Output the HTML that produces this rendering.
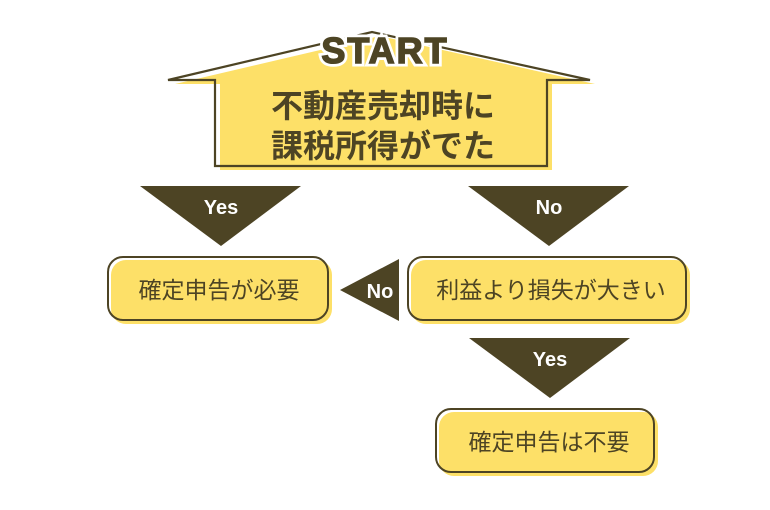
<!DOCTYPE html>
<html><head><meta charset="utf-8"><style>
html,body{margin:0;padding:0;background:#fff;}
svg{display:block;}
text{font-family:"Liberation Sans","Noto Sans CJK JP",sans-serif;}
</style></head><body>
<svg width="770" height="510" viewBox="0 0 770 510" xmlns="http://www.w3.org/2000/svg">
<!-- house -->
<polygon points="175,84 380,36 595,84 552,84 552,170 220,170 220,84" fill="#fde068"/>
<polygon points="168,80 372,32 590,80 547,80 547,166 215,166 215,80" fill="none" stroke="#4d4424" stroke-width="2.2"/>
<text x="385" y="63" font-size="36" font-weight="bold" fill="#4d4424" text-anchor="middle" stroke="#fff" stroke-width="7" paint-order="stroke" letter-spacing="2">START</text>
<text x="385" y="63" font-size="36" font-weight="bold" fill="#4d4424" text-anchor="middle" stroke="#4d4424" stroke-width="1.5" letter-spacing="2">START</text>
<text x="383" y="117" font-size="32" font-weight="bold" fill="#4d4424" text-anchor="middle">不動産売却時に</text>
<text x="383" y="157" font-size="32" font-weight="bold" fill="#4d4424" text-anchor="middle">課税所得がでた</text>
<!-- triangles -->
<polygon points="140,186 301,186 221,246" fill="#4d4424"/>
<text x="221" y="214" font-size="20" font-weight="bold" fill="#fff" text-anchor="middle">Yes</text>
<polygon points="468,186 629,186 549,246" fill="#4d4424"/>
<text x="549" y="214" font-size="20" font-weight="bold" fill="#fff" text-anchor="middle">No</text>
<polygon points="340,290 399,259 399,321" fill="#4d4424"/>
<text x="380" y="298" font-size="20" font-weight="bold" fill="#fff" text-anchor="middle">No</text>
<polygon points="469,338 630,338 550,398" fill="#4d4424"/>
<text x="550" y="366" font-size="20" font-weight="bold" fill="#fff" text-anchor="middle">Yes</text>
<!-- boxes -->
<rect x="111" y="260" width="221" height="64" rx="15" fill="#fde068"/>
<rect x="108" y="257" width="220" height="63" rx="15" fill="none" stroke="#4d4424" stroke-width="2"/>
<text x="219" y="298" font-size="23" fill="#4d4424" text-anchor="middle">確定申告が必要</text>
<rect x="411" y="260" width="279" height="64" rx="15" fill="#fde068"/>
<rect x="408" y="257" width="278" height="63" rx="15" fill="none" stroke="#4d4424" stroke-width="2"/>
<text x="551" y="298" font-size="23" fill="#4d4424" text-anchor="middle">利益より損失が大きい</text>
<rect x="439" y="412" width="219" height="64" rx="15" fill="#fde068"/>
<rect x="436" y="409" width="218" height="63" rx="15" fill="none" stroke="#4d4424" stroke-width="2"/>
<text x="549" y="450" font-size="23" fill="#4d4424" text-anchor="middle">確定申告は不要</text>
</svg>
</body></html>
